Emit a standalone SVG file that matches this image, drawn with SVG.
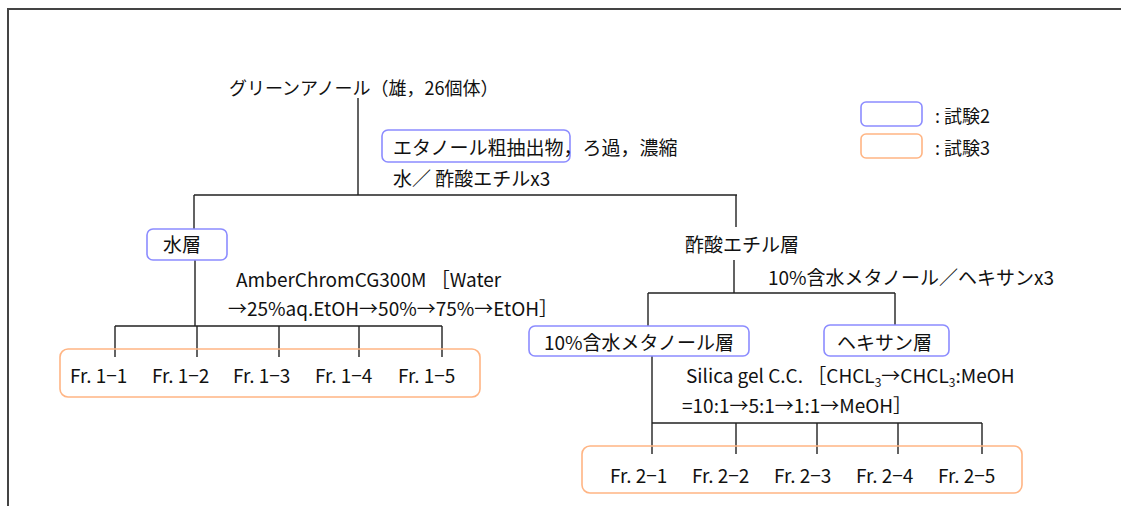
<svg xmlns="http://www.w3.org/2000/svg" width="1125" height="506" viewBox="0 0 1125 506">
<style>
text{font-family:"Noto Sans CJK JP","Noto Sans",sans-serif;font-size:19px;fill:#111}
.ln{stroke:#222;stroke-width:1.4;fill:none}
.frame{stroke:#444;stroke-width:2;fill:none}
.b{fill:#fff;stroke:#8c8cff;stroke-width:1.6}
.o{fill:none;stroke:#ffb584;stroke-width:1.6}
</style>
<rect width="1125" height="506" fill="#fff"/>
<path class="frame" d="M8,506 V9 H1121"/>
<g id="connectors">
<path class="ln" d="M358,98 V195 M194,195 H737 M194,195 V229 M195,260 V326 M115,326 H442 M115,326 V357 M197,326 V357 M279,326 V357 M359,326 V357 M442,326 V357"/>
<path class="ln" d="M736,195 V227 M734,260 V293 M648,293 H895 M648,293 V326 M895,293 V325 M652,356 V454 M652,423 H982 M736,423 V454 M817,423 V454 M898,423 V454 M982,423 V454"/>
</g>
<g id="root"><text x="229" y="95" style="font-size:18px">グリーンアノール（雄，26個体）</text></g>
<g id="extract">
<rect class="b" x="382" y="130" width="188" height="32" rx="6"/>
<text x="393" y="155">エタノール粗抽出物<tspan>，ろ過，濃縮</tspan></text>
<text x="393" y="186">水／ 酢酸エチルx3</text>
</g>
<g id="water"><rect class="b" x="147" y="229" width="80" height="31" rx="6"/><text x="163" y="252">水層</text></g>
<g id="amber-label"><text x="236" y="287">AmberChromCG300M ［Water</text><text x="228" y="316">→25%aq.EtOH→50%→75%→EtOH］</text></g>
<g id="fr1">
<rect class="o" x="60" y="349" width="420" height="48" rx="8"/>
<text x="70" y="383">Fr. 1−1</text><text x="152" y="383">Fr. 1−2</text><text x="233" y="383">Fr. 1−3</text><text x="315" y="383">Fr. 1−4</text><text x="398" y="383">Fr. 1−5</text>
</g>
<g id="etoac"><text x="685" y="252">酢酸エチル層</text><text x="768" y="285">10%含水メタノール／ヘキサンx3</text></g>
<g id="meoh"><rect class="b" x="529" y="326" width="220" height="30" rx="6"/><text x="544" y="350">10%含水メタノール層</text></g>
<g id="hexane"><rect class="b" x="824" y="325" width="125" height="31" rx="6"/><text x="837" y="350">ヘキサン層</text></g>
<g id="silica-label"><text x="686" y="383">Silica gel C.C. ［CHCL<tspan dy="4" style="font-size:12px">3</tspan><tspan dy="-4">→CHCL</tspan><tspan dy="4" style="font-size:12px">3</tspan><tspan dy="-4">:MeOH</tspan></text><text x="682" y="413">=10:1→5:1→1:1→MeOH］</text></g>
<g id="fr2">
<rect class="o" x="582" y="446" width="440" height="47" rx="8"/>
<text x="610" y="483">Fr. 2−1</text><text x="692" y="483">Fr. 2−2</text><text x="774" y="483">Fr. 2−3</text><text x="856" y="483">Fr. 2−4</text><text x="938" y="483">Fr. 2−5</text>
</g>
<g id="legend">
<rect class="b" x="861" y="102" width="61" height="24" rx="5"/><text x="935" y="123" style="font-size:18px">: 試験2</text>
<rect class="o" x="861" y="134" width="61" height="24" rx="5"/><text x="935" y="155" style="font-size:18px">: 試験3</text>
</g>
</svg>
